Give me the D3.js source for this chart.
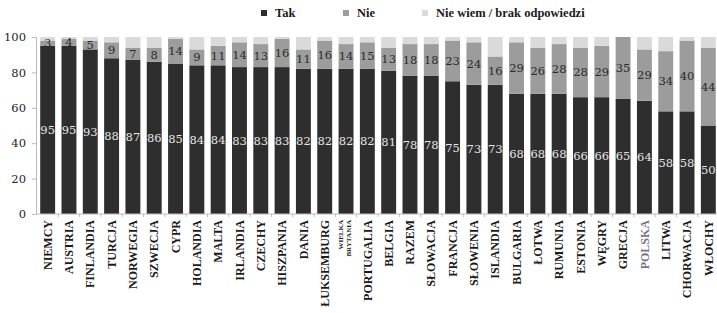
<!DOCTYPE html>
<html>
<head>
<meta charset="utf-8">
<script src="https://cdn.jsdelivr.net/npm/d3@7"></script>
<style>
body { margin: 0; background: #fff; }
svg { display: block; }
.num { font-family: "DejaVu Serif", "Liberation Serif", serif; }
.cat { font-family: "Liberation Serif", "Times New Roman", serif; font-weight: bold; }
</style>
</head>
<body>
<svg id="chart"></svg>
<script>
// kraje, od najwyzszego "Tak"
const countries = ["NIEMCY", "AUSTRIA", "FINLANDIA", "TURCJA", "NORWEGIA", "SZWECJA", "CYPR",
    "HOLANDIA", "MALTA", "IRLANDIA", "CZECHY", "HISZPANIA", "DANIA", "ŁUKSEMBURG",
    "WIELKA BRYTANIA", "PORTUGALIA", "BELGIA", "RAZEM", "SŁOWACJA", "FRANCJA", "SŁOWENIA",
    "ISLANDIA", "BULGARIA", "ŁOTWA", "RUMUNIA", "ESTONIA", "WĘGRY", "GRECJA", "POLSKA",
    "LITWA", "CHORWACJA", "WŁOCHY"];
const tak = [95, 95, 93, 88, 87, 86, 85, 84, 84, 83, 83, 83, 82, 82, 82, 82, 81, 78, 78, 75,
    73, 73, 68, 68, 68, 66, 66, 65, 64, 58, 58, 50];
const nie = [3, 4, 5, 9, 7, 8, 14, 9, 11, 14, 13, 16, 11, 16, 14, 15, 13, 18, 18, 23, 24, 16,
    29, 26, 28, 28, 29, 35, 29, 34, 40, 44];
const nieWiem = [2, 1, 2, 3, 6, 6, 1, 7, 5, 3, 4, 1, 7, 2, 4, 3, 6, 4, 4, 2, 3, 11, 3, 6, 4, 6,
    5, 0, 7, 8, 2, 6];
const yTicks = [0, 20, 40, 60, 80, 100];
const seriesNames = ["Tak", "Nie", "Nie wiem / brak odpowiedzi"];

const width = 717, height = 313;
const colors = ["#2e2e2e", "#9c9c9c", "#dadada"];

const svg = d3.select("#chart").attr("width", width).attr("height", height);

const rows = countries.map((c, i) => ({ country: c, tak: tak[i], nie: nie[i], nw: nieWiem[i] }));
const stack = d3.stack().keys(["tak", "nie", "nw"])(rows);

const x = d3.scaleBand().domain(countries).range([37, 719]).paddingInner(0.3).paddingOuter(0.15);
const y = d3.scaleLinear().domain([0, 100]).range([214, 37]);

// slupki
svg.append("g").selectAll("g")
    .data(stack)
    .join("g")
    .attr("fill", (d, i) => colors[i])
    .selectAll("rect")
    .data(d => d)
    .join("rect")
    .attr("x", d => x(d.data.country))
    .attr("y", d => y(d[1]))
    .attr("height", d => y(d[0]) - y(d[1]))
    .attr("width", x.bandwidth());

// osie
const yAxis = svg.append("g")
    .attr("transform", "translate(36,0)")
    .call(d3.axisLeft(y).tickValues(yTicks).tickSize(4).tickPadding(6));
yAxis.select(".domain").attr("stroke", "#bbb");
yAxis.selectAll(".tick line").attr("stroke", "#bbb");
yAxis.selectAll(".tick text").attr("class", "num").attr("font-size", 11.5).attr("fill", "#222");

const xAxis = svg.append("g").attr("transform", "translate(0,214)");
xAxis.append("line").attr("x1", 36).attr("x2", 717).attr("stroke", "#bbb");
xAxis.selectAll("line.t")
    .data(countries)
    .join("line")
    .attr("class", "t")
    .attr("x1", d => x(d) + x.bandwidth() + x.step() * 0.15)
    .attr("x2", d => x(d) + x.bandwidth() + x.step() * 0.15)
    .attr("y1", 0).attr("y2", 3)
    .attr("stroke", "#bbb");

// etykiety wartosci
svg.append("g").selectAll("text")
    .data(rows)
    .join("text")
    .attr("class", "num")
    .attr("x", d => x(d.country) + x.bandwidth() / 2)
    .attr("y", d => y(d.tak / 2) + 4)
    .attr("text-anchor", "middle")
    .attr("font-size", 11.5)
    .attr("fill", "#e6e6e6")
    .text(d => d.tak);

svg.append("g").selectAll("text")
    .data(rows)
    .join("text")
    .attr("class", "num")
    .attr("x", d => x(d.country) + x.bandwidth() / 2)
    .attr("y", d => y(d.tak + d.nie / 2) + 4)
    .attr("text-anchor", "middle")
    .attr("font-size", 11.5)
    .attr("fill", "#2a2a2a")
    .text(d => d.nie);

// nazwy krajow
const cats = svg.append("g").selectAll("g")
    .data(countries)
    .join("g")
    .attr("transform", d => `translate(${x(d) + x.bandwidth() / 2},220) rotate(-90)`);

cats.filter(d => d !== "WIELKA BRYTANIA")
    .append("text")
    .attr("class", "cat")
    .attr("text-anchor", "end")
    .attr("dy", "0.35em")
    .attr("font-size", 12)
    .attr("fill", d => d === "POLSKA" ? "#7a7488" : "#1a1a1a")
    .text(d => d);

cats.filter(d => d === "WIELKA BRYTANIA")
    .selectAll("text")
    .data(["WIELKA", "BRYTANIA"])
    .join("text")
    .attr("class", "cat")
    .attr("text-anchor", "end")
    .attr("y", (d, i) => i === 0 ? -3 : 5)
    .attr("font-size", 7)
    .attr("fill", "#1a1a1a")
    .text(d => d);

// legenda
const legendX = [261, 343, 422];
const legend = svg.append("g").selectAll("g")
    .data(seriesNames)
    .join("g")
    .attr("transform", (d, i) => `translate(${legendX[i]},10)`);
legend.append("rect").attr("width", 6).attr("height", 6).attr("fill", (d, i) => colors[i]);
legend.append("text")
    .attr("class", "cat")
    .attr("x", 14).attr("y", 7)
    .attr("font-size", 12.5)
    .attr("fill", "#1a1a1a")
    .text(d => d);
</script>
</body>
</html>
